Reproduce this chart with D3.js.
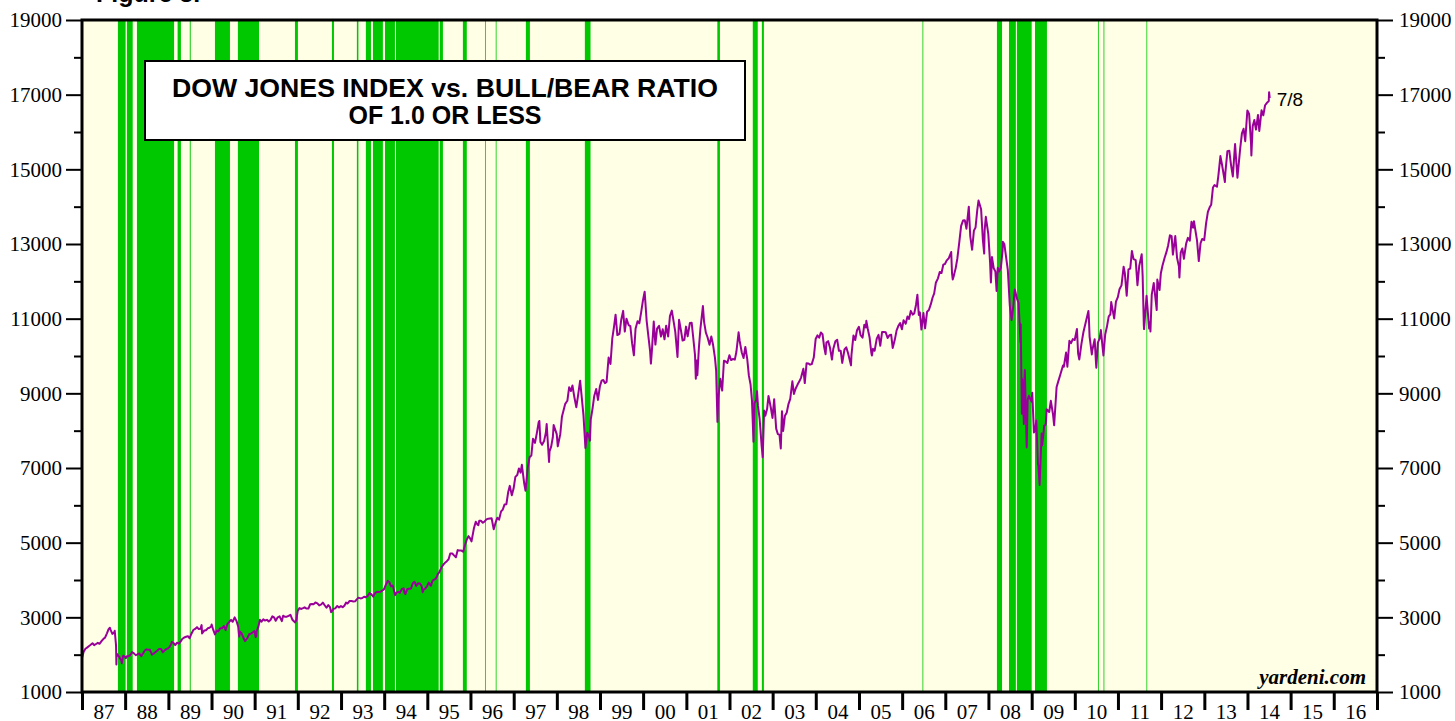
<!DOCTYPE html>
<html>
<head>
<meta charset="utf-8">
<script src="https://cdn.jsdelivr.net/npm/d3@7"></script>
<style>
  body { margin: 0; background: #fff; }
  svg { display: block; }
</style>
</head>
<body>
<div id="chart"></div>
<script>
// Dow Jones Industrial Average (date, level)
const dowSeries = [
  ["1987-01-02",1927],["1987-01-15",2076],["1987-01-30",2158],["1987-02-13",2188],["1987-02-27",2224],["1987-03-13",2258],["1987-03-31",2305],["1987-04-14",2254],["1987-04-30",2286],["1987-05-15",2316],["1987-05-29",2292],["1987-06-15",2360],["1987-06-30",2419],["1987-07-15",2456],["1987-07-31",2572],["1987-08-14",2685],["1987-08-25",2722],["1987-08-31",2663],["1987-09-15",2557],["1987-09-30",2596],["1987-10-05",2640],["1987-10-16",2247],["1987-10-19",1739],["1987-10-21",2028],["1987-10-30",1994],["1987-11-13",1935],["1987-11-30",1834],["1987-12-04",1767],["1987-12-15",1974],["1987-12-31",1939],
  ["1988-01-08",1911],["1988-01-15",1956],["1988-01-29",1958],["1988-02-12",1983],["1988-02-29",2071],["1988-03-15",2035],["1988-03-31",1988],["1988-04-14",2005],["1988-04-29",2032],["1988-05-16",1962],["1988-05-31",2031],["1988-06-15",2111],["1988-06-30",2142],["1988-07-15",2133],["1988-07-29",2129],["1988-08-15",2000],["1988-08-31",2032],["1988-09-15",2072],["1988-09-30",2113],["1988-10-14",2150],["1988-10-31",2149],["1988-11-15",2065],["1988-11-30",2114],["1988-12-15",2150],["1988-12-30",2169],
  ["1989-01-16",2230],["1989-01-31",2342],["1989-02-15",2305],["1989-02-28",2258],["1989-03-15",2320],["1989-03-31",2294],["1989-04-14",2350],["1989-04-28",2419],["1989-05-15",2460],["1989-05-31",2480],["1989-06-15",2495],["1989-06-30",2440],["1989-07-14",2555],["1989-07-31",2661],["1989-08-15",2690],["1989-08-31",2737],["1989-09-15",2685],["1989-09-29",2693],["1989-10-09",2791],["1989-10-13",2569],["1989-10-31",2645],["1989-11-15",2655],["1989-11-30",2706],["1989-12-15",2720],["1989-12-29",2753],
  ["1990-01-02",2810],["1990-01-15",2669],["1990-01-30",2543],["1990-02-15",2645],["1990-02-28",2627],["1990-03-15",2710],["1990-03-30",2707],["1990-04-16",2765],["1990-04-30",2657],["1990-05-15",2820],["1990-05-31",2877],["1990-06-15",2935],["1990-06-29",2881],["1990-07-16",2999],["1990-07-31",2905],["1990-08-15",2748],["1990-08-23",2483],["1990-08-31",2614],["1990-09-14",2564],["1990-09-28",2453],["1990-10-11",2365],["1990-10-31",2442],["1990-11-15",2545],["1990-11-30",2560],["1990-12-14",2593],["1990-12-31",2634],
  ["1991-01-09",2470],["1991-01-15",2490],["1991-01-17",2624],["1991-01-31",2736],["1991-02-15",2934],["1991-02-28",2882],["1991-03-15",2948],["1991-03-28",2914],["1991-04-15",2933],["1991-04-30",2888],["1991-05-15",2930],["1991-05-31",3028],["1991-06-14",3001],["1991-06-28",2907],["1991-07-15",3000],["1991-07-31",3025],["1991-08-19",2898],["1991-08-30",3044],["1991-09-13",3016],["1991-09-30",3017],["1991-10-15",3041],["1991-10-31",3069],["1991-11-15",2943],["1991-11-29",2895],["1991-12-10",2863],["1991-12-20",2934],["1991-12-31",3169],
  ["1992-01-15",3246],["1992-01-31",3224],["1992-02-14",3245],["1992-02-28",3268],["1992-03-13",3235],["1992-03-31",3236],["1992-04-15",3353],["1992-04-30",3359],["1992-05-15",3353],["1992-05-29",3397],["1992-06-15",3374],["1992-06-30",3319],["1992-07-15",3339],["1992-07-31",3394],["1992-08-14",3331],["1992-08-31",3257],["1992-09-15",3327],["1992-09-30",3272],["1992-10-09",3136],["1992-10-30",3226],["1992-11-13",3240],["1992-11-30",3305],["1992-12-15",3265],["1992-12-31",3301],
  ["1993-01-15",3271],["1993-01-29",3310],["1993-02-12",3393],["1993-02-26",3371],["1993-03-15",3440],["1993-03-31",3435],["1993-04-15",3425],["1993-04-30",3428],["1993-05-14",3482],["1993-05-28",3527],["1993-06-15",3507],["1993-06-30",3516],["1993-07-15",3553],["1993-07-30",3540],["1993-08-13",3570],["1993-08-31",3651],["1993-09-15",3614],["1993-09-30",3555],["1993-10-15",3644],["1993-10-29",3681],["1993-11-15",3678],["1993-11-30",3684],["1993-12-15",3716],["1993-12-31",3754],
  ["1994-01-14",3867],["1994-01-31",3978],["1994-02-15",3937],["1994-02-28",3832],["1994-03-15",3849],["1994-03-31",3636],["1994-04-04",3594],["1994-04-15",3661],["1994-04-29",3682],["1994-05-13",3660],["1994-05-31",3758],["1994-06-15",3775],["1994-06-24",3637],["1994-06-30",3625],["1994-07-15",3753],["1994-07-29",3765],["1994-08-15",3766],["1994-08-31",3913],["1994-09-15",3953],["1994-09-30",3843],["1994-10-14",3910],["1994-10-31",3908],["1994-11-15",3827],["1994-11-23",3674],["1994-11-30",3739],["1994-12-15",3766],["1994-12-30",3834],
  ["1995-01-13",3929],["1995-01-31",3844],["1995-02-15",3986],["1995-02-28",4011],["1995-03-15",4038],["1995-03-31",4158],["1995-04-13",4208],["1995-04-28",4321],["1995-05-15",4402],["1995-05-31",4465],["1995-06-15",4505],["1995-06-30",4556],["1995-07-14",4708],["1995-07-31",4709],["1995-08-15",4659],["1995-08-31",4611],["1995-09-15",4801],["1995-09-29",4789],["1995-10-13",4793],["1995-10-31",4756],["1995-11-15",4923],["1995-11-30",5075],["1995-12-15",5176],["1995-12-29",5117],
  ["1996-01-10",5033],["1996-01-31",5395],["1996-02-15",5560],["1996-02-29",5486],["1996-03-08",5471],["1996-03-15",5585],["1996-03-29",5588],["1996-04-15",5532],["1996-04-30",5569],["1996-05-15",5624],["1996-05-31",5643],["1996-06-14",5650],["1996-06-28",5655],["1996-07-16",5358],["1996-07-31",5529],["1996-08-15",5666],["1996-08-30",5616],["1996-09-16",5838],["1996-09-30",5882],["1996-10-15",6020],["1996-10-31",6029],["1996-11-15",6348],["1996-11-29",6522],["1996-12-16",6269],["1996-12-31",6448],
  ["1997-01-15",6762],["1997-01-31",6813],["1997-02-14",6988],["1997-02-28",6877],["1997-03-11",7085],["1997-03-31",6584],["1997-04-11",6392],["1997-04-30",7009],["1997-05-15",7286],["1997-05-30",7331],["1997-06-13",7782],["1997-06-30",7673],["1997-07-15",7922],["1997-07-31",8223],["1997-08-06",8259],["1997-08-15",7694],["1997-08-29",7622],["1997-09-15",7721],["1997-09-30",7945],["1997-10-07",8178],["1997-10-27",7161],["1997-10-31",7442],["1997-11-14",7572],["1997-11-28",7823],["1997-12-05",8149],["1997-12-31",7908],
  ["1998-01-09",7580],["1998-01-30",7907],["1998-02-13",8370],["1998-02-27",8546],["1998-03-13",8718],["1998-03-31",8800],["1998-04-15",9162],["1998-04-30",9063],["1998-05-13",9211],["1998-05-29",8900],["1998-06-15",8628],["1998-06-30",8952],["1998-07-17",9338],["1998-07-31",8883],["1998-08-14",8425],["1998-08-31",7539],["1998-09-15",7945],["1998-09-30",7843],["1998-10-08",7731],["1998-10-15",8299],["1998-10-30",8592],["1998-11-13",8920],["1998-11-30",9117],["1998-12-15",8823],["1998-12-31",9181],
  ["1999-01-15",9340],["1999-01-29",9359],["1999-02-12",9274],["1999-02-26",9307],["1999-03-15",9958],["1999-03-31",9786],["1999-04-15",10463],["1999-04-30",10789],["1999-05-13",11107],["1999-05-28",10560],["1999-06-15",10595],["1999-06-30",10971],["1999-07-16",11209],["1999-07-30",10655],["1999-08-13",11000],["1999-08-31",10829],["1999-09-15",10801],["1999-09-30",10337],["1999-10-15",10020],["1999-10-29",10729],["1999-11-15",10932],["1999-11-30",10878],["1999-12-15",11160],["1999-12-31",11497],
  ["2000-01-14",11723],["2000-01-31",10941],["2000-02-15",10519],["2000-02-29",10128],["2000-03-07",9796],["2000-03-15",10131],["2000-03-31",10922],["2000-04-14",10306],["2000-04-28",10734],["2000-05-15",10808],["2000-05-31",10522],["2000-06-15",10714],["2000-06-30",10448],["2000-07-14",10813],["2000-07-31",10522],["2000-08-15",11067],["2000-08-31",11215],["2000-09-15",10927],["2000-09-29",10651],["2000-10-18",9975],["2000-10-31",10971],["2000-11-15",10708],["2000-11-30",10415],["2000-12-15",10434],["2000-12-29",10787],
  ["2001-01-12",10526],["2001-01-31",10887],["2001-02-15",10891],["2001-02-28",10495],["2001-03-15",10032],["2001-03-22",9390],["2001-03-30",9879],["2001-04-04",9485],["2001-04-17",10216],["2001-04-30",10735],["2001-05-21",11337],["2001-05-31",10912],["2001-06-15",10624],["2001-06-29",10502],["2001-07-16",10300],["2001-07-31",10523],["2001-08-15",10300],["2001-08-31",9950],["2001-09-10",9606],["2001-09-21",8236],["2001-09-28",8848],["2001-10-15",9390],["2001-10-31",9075],["2001-11-15",9872],["2001-11-30",9852],["2001-12-14",9811],["2001-12-31",10021],
  ["2002-01-15",9891],["2002-01-31",9920],["2002-02-15",9903],["2002-02-28",10106],["2002-03-19",10635],["2002-03-28",10404],["2002-04-15",10093],["2002-04-30",9946],["2002-05-15",10243],["2002-05-31",9925],["2002-06-14",9474],["2002-06-28",9243],["2002-07-10",8813],["2002-07-23",7702],["2002-07-31",8737],["2002-08-15",8818],["2002-08-22",9053],["2002-08-30",8663],["2002-09-13",8313],["2002-09-30",7592],["2002-10-09",7286],["2002-10-21",8538],["2002-10-31",8397],["2002-11-15",8579],["2002-11-27",8931],["2002-12-16",8627],["2002-12-31",8342],
  ["2003-01-14",8843],["2003-01-31",8054],["2003-02-14",7909],["2003-02-28",7891],["2003-03-11",7524],["2003-03-21",8522],["2003-03-31",7992],["2003-04-15",8402],["2003-04-30",8480],["2003-05-15",8713],["2003-05-30",8850],["2003-06-17",9323],["2003-06-30",8985],["2003-07-15",9128],["2003-07-31",9234],["2003-08-15",9321],["2003-08-29",9416],["2003-09-18",9659],["2003-09-30",9275],["2003-10-15",9803],["2003-10-31",9801],["2003-11-14",9768],["2003-11-28",9782],["2003-12-15",9959],["2003-12-31",10454],
  ["2004-01-15",10553],["2004-01-30",10488],["2004-02-13",10628],["2004-02-27",10584],["2004-03-12",10240],["2004-03-24",10048],["2004-03-31",10358],["2004-04-15",10397],["2004-04-30",10226],["2004-05-17",9906],["2004-05-28",10188],["2004-06-15",10395],["2004-06-30",10435],["2004-07-15",10140],["2004-07-30",10140],["2004-08-12",9815],["2004-08-31",10174],["2004-09-15",10231],["2004-09-30",10080],["2004-10-25",9749],["2004-10-29",10027],["2004-11-15",10550],["2004-11-30",10428],["2004-12-15",10691],["2004-12-31",10783],
  ["2005-01-14",10558],["2005-01-31",10490],["2005-02-15",10838],["2005-02-28",10766],["2005-03-04",10941],["2005-03-15",10745],["2005-03-31",10504],["2005-04-15",10088],["2005-04-20",10012],["2005-04-29",10193],["2005-05-13",10140],["2005-05-31",10467],["2005-06-15",10566],["2005-06-30",10275],["2005-07-15",10640],["2005-07-29",10641],["2005-08-15",10634],["2005-08-31",10482],["2005-09-15",10558],["2005-09-30",10569],["2005-10-13",10217],["2005-10-31",10440],["2005-11-15",10686],["2005-11-30",10806],["2005-12-15",10881],["2005-12-30",10718],
  ["2006-01-13",10960],["2006-01-31",10865],["2006-02-15",11058],["2006-02-28",10993],["2006-03-15",11209],["2006-03-31",11109],["2006-04-13",11138],["2006-04-28",11367],["2006-05-10",11642],["2006-05-22",11098],["2006-05-31",11168],["2006-06-13",10707],["2006-06-30",11150],["2006-07-14",10740],["2006-07-31",11186],["2006-08-15",11231],["2006-08-31",11381],["2006-09-15",11560],["2006-09-29",11679],["2006-10-13",11961],["2006-10-31",12081],["2006-11-15",12251],["2006-11-30",12222],["2006-12-15",12446],["2006-12-29",12463],
  ["2007-01-12",12556],["2007-01-31",12622],["2007-02-20",12786],["2007-02-27",12216],["2007-03-05",12050],["2007-03-15",12160],["2007-03-30",12354],["2007-04-13",12612],["2007-04-30",13063],["2007-05-15",13487],["2007-05-31",13628],["2007-06-15",13639],["2007-06-29",13409],["2007-07-19",14000],["2007-07-31",13212],["2007-08-16",12846],["2007-08-31",13358],["2007-09-14",13442],["2007-09-28",13896],["2007-10-09",14165],["2007-10-31",13930],["2007-11-15",13110],["2007-11-26",12743],["2007-11-30",13372],["2007-12-10",13727],["2007-12-31",13265],
  ["2008-01-15",12501],["2008-01-22",11971],["2008-01-31",12650],["2008-02-15",12348],["2008-02-29",12266],["2008-03-10",11740],["2008-03-20",12361],["2008-03-31",12263],["2008-04-15",12362],["2008-04-30",12820],["2008-05-02",13058],["2008-05-15",12992],["2008-05-30",12638],["2008-06-13",12307],["2008-06-30",11350],["2008-07-15",10963],["2008-07-31",11378],["2008-08-11",11782],["2008-08-29",11544],["2008-09-12",11421],["2008-09-29",10365],["2008-09-30",10851],["2008-10-10",8451],["2008-10-13",9387],["2008-10-27",8176],["2008-10-31",9325],["2008-11-04",9625],["2008-11-20",7552],["2008-11-28",8829],["2008-12-08",8934],["2008-12-31",8776],
  ["2009-01-06",9015],["2009-01-20",7950],["2009-01-30",8001],["2009-02-09",8270],["2009-02-23",7115],["2009-02-27",7063],["2009-03-09",6547],["2009-03-26",7925],["2009-03-31",7609],["2009-04-17",8131],["2009-04-30",8168],["2009-05-08",8575],["2009-05-29",8500],["2009-06-12",8799],["2009-06-30",8447],["2009-07-10",8146],["2009-07-31",9172],["2009-08-14",9321],["2009-08-31",9496],["2009-09-23",9748],["2009-09-30",9712],["2009-10-19",10092],["2009-10-30",9713],["2009-11-16",10406],["2009-11-30",10345],["2009-12-15",10452],["2009-12-31",10428],
  ["2010-01-19",10725],["2010-01-29",10067],["2010-02-08",9908],["2010-02-26",10325],["2010-03-15",10642],["2010-03-31",10857],["2010-04-26",11205],["2010-04-30",11009],["2010-05-06",10520],["2010-05-25",10043],["2010-05-28",10137],["2010-06-18",10450],["2010-06-30",9774],["2010-07-02",9686],["2010-07-15",10359],["2010-07-30",10466],["2010-08-09",10698],["2010-08-31",10015],["2010-09-15",10572],["2010-09-30",10788],["2010-10-15",11062],["2010-10-29",11118],["2010-11-05",11444],["2010-11-30",11006],["2010-12-15",11457],["2010-12-31",11578],
  ["2011-01-14",11787],["2011-01-31",11892],["2011-02-18",12391],["2011-02-28",12226],["2011-03-16",11613],["2011-03-31",12320],["2011-04-15",12341],["2011-04-29",12811],["2011-05-13",12596],["2011-05-31",12570],["2011-06-15",11897],["2011-06-30",12414],["2011-07-21",12724],["2011-07-29",12143],["2011-08-08",10810],["2011-08-10",10720],["2011-08-31",11614],["2011-09-22",10734],["2011-09-30",10913],["2011-10-03",10655],["2011-10-14",11644],["2011-10-31",11955],["2011-11-25",11231],["2011-11-30",12046],["2011-12-19",11766],["2011-12-30",12218],
  ["2012-01-13",12422],["2012-01-31",12633],["2012-02-15",12781],["2012-02-29",12952],["2012-03-16",13233],["2012-03-30",13212],["2012-04-10",12716],["2012-04-30",13214],["2012-05-15",12632],["2012-05-31",12393],["2012-06-04",12101],["2012-06-15",12767],["2012-06-29",12880],["2012-07-12",12605],["2012-07-31",13009],["2012-08-15",13165],["2012-08-31",13091],["2012-09-14",13594],["2012-09-28",13437],["2012-10-05",13610],["2012-10-31",13096],["2012-11-15",12543],["2012-11-30",13026],["2012-12-14",13135],["2012-12-31",13104],
  ["2013-01-15",13535],["2013-01-31",13861],["2013-02-15",13982],["2013-02-28",14054],["2013-03-15",14515],["2013-03-28",14579],["2013-04-18",14537],["2013-04-30",14840],["2013-05-17",15355],["2013-05-31",15116],["2013-06-24",14660],["2013-06-28",14910],["2013-07-15",15484],["2013-07-31",15500],["2013-08-15",15113],["2013-08-30",14810],["2013-09-18",15677],["2013-09-30",15130],["2013-10-08",14776],["2013-10-31",15546],["2013-11-15",15962],["2013-11-29",16086],["2013-12-13",15755],["2013-12-31",16577],
  ["2014-01-15",16482],["2014-01-31",15699],["2014-02-03",15373],["2014-02-14",16154],["2014-02-28",16322],["2014-03-14",16066],["2014-03-31",16458],["2014-04-11",16027],["2014-04-30",16581],["2014-05-15",16447],["2014-05-30",16717],["2014-06-13",16776],["2014-06-30",16827],["2014-07-03",17068],["2014-07-08",16906]
];

// weeks when the bull/bear ratio was 1.0 or less (start, end)
const bearPeriods = [
  ["1987-11-01","1988-01-05"],["1988-01-16","1988-03-05"],["1988-04-10","1989-02-18"],
  ["1989-03-20","1989-04-17"],["1989-07-01","1989-07-09"],["1990-01-30","1990-06-06"],
  ["1990-08-12","1991-02-07"],["1991-12-08","1992-01-02"],["1992-10-16","1992-11-02"],
  ["1993-05-15","1993-05-28"],["1993-07-30","1993-09-11"],["1993-09-28","1993-12-21"],
  ["1994-01-08","1994-04-02"],["1994-04-10","1995-04-07"],["1995-04-17","1995-05-13"],
  ["1995-10-29","1995-12-01"],["1996-05-03","1996-05-09"],["1996-08-02","1996-08-08"],
  ["1997-04-14","1997-05-18"],["1998-08-26","1998-10-13"],["2001-09-20","2001-10-12"],
  ["2002-07-17","2002-08-28"],["2002-10-02","2002-10-19"],["2006-06-22","2006-06-28"],
  ["2008-03-13","2008-04-25"],["2008-06-23","2008-08-20"],["2008-08-29","2009-01-01"],
  ["2009-01-29","2009-05-10"],["2010-07-16","2010-07-22"],["2010-09-01","2010-09-07"],
  ["2011-08-30","2011-09-05"]
];

const yMajorTicks = [1000, 3000, 5000, 7000, 9000, 11000, 13000, 15000, 17000, 19000];
const yMinorTicks = [2000, 4000, 6000, 8000, 10000, 12000, 14000, 16000, 18000];
const yearLabels = d3.range(1987, 2017);

const width = 1455, height = 721;
const margin = {top: 20, right: 78, bottom: 30, left: 82};
const parse = d3.timeParse("%Y-%m-%d");

const svg = d3.select("#chart").append("svg")
  .attr("width", width)
  .attr("height", height);

const x = d3.scaleTime()
  .domain([new Date(1987, 0, 1), new Date(2017, 0, 1)])
  .range([margin.left, width - margin.right]);

const y = d3.scaleLinear()
  .domain([1000, 19000])
  .range([height - margin.bottom + 1, margin.top]);

// plot background
svg.append("rect")
  .attr("x", x.range()[0]).attr("y", y(19000))
  .attr("width", x.range()[1] - x.range()[0])
  .attr("height", y(1000) - y(19000))
  .attr("fill", "#FFFFE5");

// green bands
svg.append("g").selectAll("rect")
  .data(bearPeriods)
  .join("rect")
  .attr("x", d => x(parse(d[0])))
  .attr("y", y(19000))
  .attr("width", d => Math.max(0.8, x(parse(d[1])) - x(parse(d[0]))))
  .attr("height", y(1000) - y(19000))
  .attr("fill", "#00C800");

// title box
const box = svg.append("g");
box.append("rect")
  .attr("x", 145).attr("y", 61)
  .attr("width", 600).attr("height", 79)
  .attr("fill", "#fff").attr("stroke", "#000").attr("stroke-width", 2);
box.append("text")
  .attr("x", 445).attr("y", 97)
  .attr("text-anchor", "middle")
  .attr("textLength", 546).attr("lengthAdjust", "spacingAndGlyphs")
  .style("font", "bold 25px 'Liberation Sans', Arial, sans-serif")
  .text("DOW JONES INDEX vs. BULL/BEAR RATIO");
box.append("text")
  .attr("x", 445).attr("y", 124)
  .attr("text-anchor", "middle")
  .style("font", "bold 25px 'Liberation Sans', Arial, sans-serif")
  .text("OF 1.0 OR LESS");

// Dow line
const line = d3.line()
  .x(d => x(parse(d[0])))
  .y(d => y(d[1]));

svg.append("path")
  .datum(dowSeries)
  .attr("d", line)
  .attr("fill", "none")
  .attr("stroke", "#990099")
  .attr("stroke-width", 2)
  .attr("stroke-linejoin", "round");

const last = dowSeries[dowSeries.length - 1];
svg.append("text")
  .attr("x", x(parse(last[0])) + 7)
  .attr("y", 106)
  .style("font", "19px 'Liberation Sans', Arial, sans-serif")
  .text("7/8");

svg.append("text")
  .attr("x", 1366).attr("y", 684)
  .attr("text-anchor", "end")
  .style("font", "bold italic 21px 'Liberation Serif', 'Times New Roman', serif")
  .text("yardeni.com");

svg.append("text")
  .attr("x", 96).attr("y", 2)
  .style("font", "bold 25px 'Liberation Sans', Arial, sans-serif")
  .text("Figure 3.");

// axes
const serif = "'Liberation Serif', 'Times New Roman', serif";

function styleAxis(g, w) {
  g.select(".domain").remove();
  g.selectAll("line").attr("stroke", "#000").attr("stroke-width", w);
  g.selectAll("text").style("font-family", serif).style("font-size", "21px").attr("fill", "#000");
}

svg.append("g")
  .attr("transform", `translate(${x.range()[0]},0)`)
  .call(d3.axisLeft(y).tickValues(yMajorTicks).tickSize(16).tickPadding(4).tickFormat(d3.format("d")))
  .call(g => styleAxis(g, 2));
svg.append("g")
  .attr("transform", `translate(${x.range()[0]},0)`)
  .call(d3.axisLeft(y).tickValues(yMinorTicks).tickSize(8).tickFormat(""))
  .call(g => styleAxis(g, 2));

svg.append("g")
  .attr("transform", `translate(${x.range()[1]},0)`)
  .call(d3.axisRight(y).tickValues(yMajorTicks).tickSize(16).tickPadding(6).tickFormat(d3.format("d")))
  .call(g => styleAxis(g, 2));
svg.append("g")
  .attr("transform", `translate(${x.range()[1]},0)`)
  .call(d3.axisRight(y).tickValues(yMinorTicks).tickSize(8).tickFormat(""))
  .call(g => styleAxis(g, 2));

// year boundary ticks
svg.append("g")
  .attr("transform", `translate(0,${y(1000)})`)
  .call(d3.axisBottom(x).tickValues(d3.range(1987, 2018).map(yr => new Date(yr, 0, 1))).tickSize(18).tickFormat(""))
  .call(g => styleAxis(g, 3));

// year labels centred in each year
svg.append("g")
  .attr("transform", `translate(0,${y(1000)})`)
  .call(d3.axisBottom(x).tickValues(yearLabels.map(yr => new Date(yr, 6, 2))).tickSize(0).tickPadding(12)
    .tickFormat(d3.timeFormat("%y")))
  .call(g => styleAxis(g, 0));

// frame
svg.append("rect")
  .attr("x", x.range()[0]).attr("y", y(19000))
  .attr("width", x.range()[1] - x.range()[0])
  .attr("height", y(1000) - y(19000))
  .attr("fill", "none")
  .attr("stroke", "#000")
  .attr("stroke-width", 3);
</script>
</body>
</html>
